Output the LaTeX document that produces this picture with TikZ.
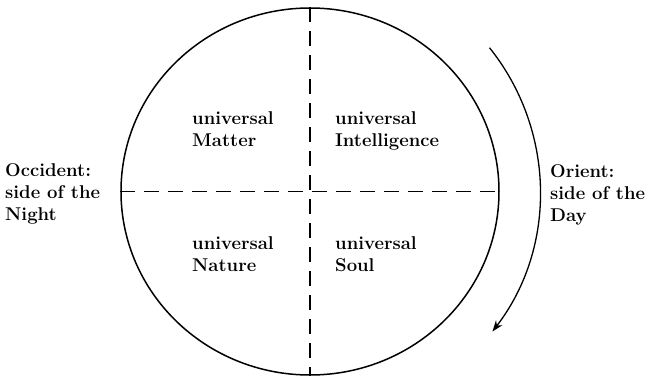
\documentclass[tikz,border=0pt]{standalone}
\usepackage{tikz}
\usetikzlibrary{arrows.meta, shapes.geometric}

\begin{document}
\begin{tikzpicture}[x=1pt, y=-1pt, >=Stealth,
  region/.style={font=\fontsize{18.5}{22}\selectfont\bfseries, align=left, anchor=north west, inner sep=0pt},
  axis/.style={line width=1.5pt, dash pattern=on 15pt off 9pt}]

  \useasboundingbox (0,0) rectangle (649,380);

  % The world circle
  \node[draw, line width=1.5pt, ellipse, inner sep=0pt, minimum width=378pt, minimum height=367pt] (world) at (310,191.5) {};

  % Axes
  \draw[axis] (world.north) -- (world.south);
  \draw[axis] (world.west) -- (world.east);

  % Quarters
  \node[region] (matter) at (192,111) {universal\\Matter};
  \node[region] (intell) at (335,111) {universal\\Intelligence};
  \node[region] (nature) at (192,236) {universal\\Nature};
  \node[region] (soul) at (335,236) {universal\\Soul};

  % Sides
  \node[region] (occident) at (5,163) {Occident:\\side of the\\Night};
  \node[region] (orient) at (550,164) {Orient:\\side of the\\Day};

  % Course of the sun
  \draw[line width=1.3pt, arrows={-Stealth[length=11pt, width=8pt]}]
    ([shift={(-38.7:230)}]world.center) arc[start angle=-38.7, end angle=37.5, radius=230];

\end{tikzpicture}
\end{document}
